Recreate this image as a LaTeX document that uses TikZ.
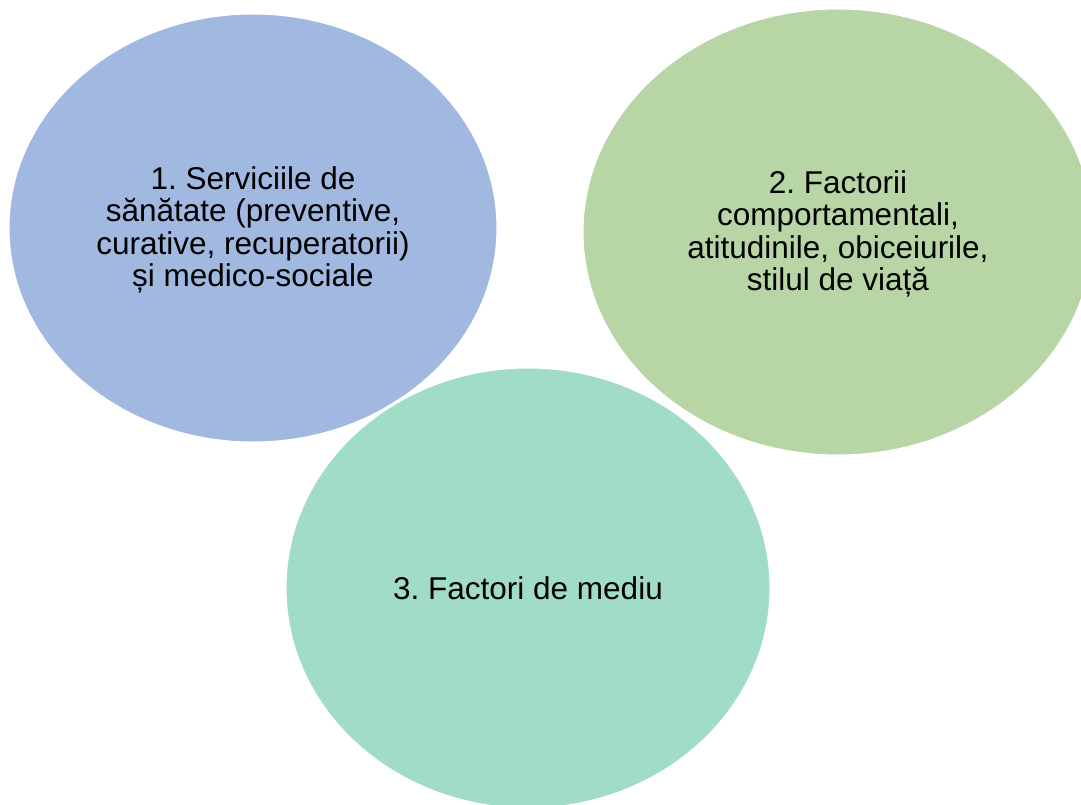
\documentclass[tikz,border=0pt]{standalone}
\usepackage{fontspec}
\setmainfont{Liberation Sans}
\usetikzlibrary{shapes.geometric}
\definecolor{blobblue}{HTML}{A1B8E1}
\definecolor{blobgreen}{HTML}{B8D6A5}
\definecolor{blobteal}{HTML}{A1DCC8}
\frenchspacing
\tikzset{
  blob/.style={ellipse, draw=white, line width=3pt, inner sep=0pt,
    align=center, text=black,
    font=\fontsize{31.5}{32.5}\selectfont},
}
\begin{document}
\begin{tikzpicture}[x=1pt,y=-1pt]
\clip (0,0) rectangle (1081,805);
\useasboundingbox (0,0) rectangle (1081,805);
\fill[white] (0,0) rectangle (1081,805);
\node[blob, fill=blobblue, minimum width=490pt, minimum height=430pt] (s1) at (253,228)
  {};
\node[align=center, font=\fontsize{31.5}{32.5}\selectfont] (t1) at (253,230)
  {1. Serviciile de\\s\u{a}n\u{a}tate (preventive,\\curative, recuperatorii)\\și medico-sociale};
\node[blob, fill=blobgreen, minimum width=512pt, minimum height=448pt] (s2) at (838,232)
  {};
\node[align=center, font=\fontsize{31.5}{32.5}\selectfont] (t2) at (838,234)
  {2. Factorii\\comportamentali,\\atitudinile, obiceiurile,\\stilul de viață};
\node[blob, fill=blobteal, minimum width=486pt, minimum height=442pt] (s3) at (528,588)
  {};
\node[font=\fontsize{31.5}{32.5}\selectfont] (t3) at (528,588)
  {3. Factori de mediu};
\end{tikzpicture}
\end{document}
